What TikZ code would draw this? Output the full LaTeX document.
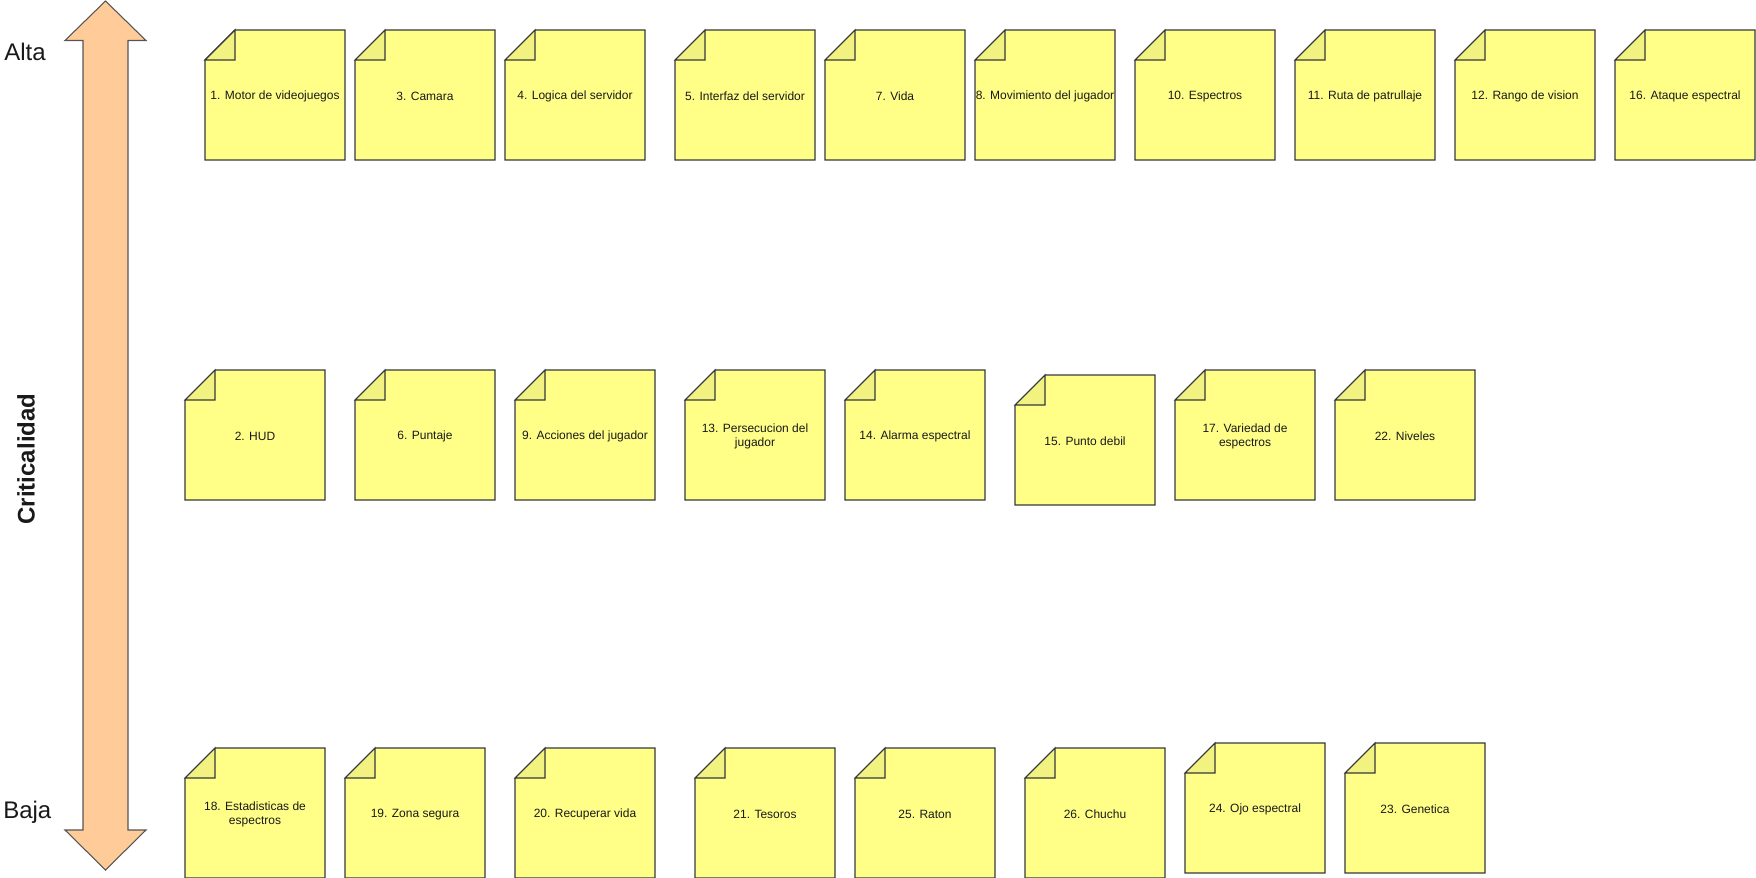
\documentclass[tikz,border=0pt]{standalone}
\usepackage{fontspec}
\setmainfont{Liberation Sans}
\begin{document}
\begin{tikzpicture}[x=0.75pt,y=-0.75pt,
  notebody/.style={fill=noteyellow,draw=notestroke,line width=0.8pt,line join=miter},
  notefold/.style={fill=notefoldc,draw=notestroke,line width=0.8pt},
  notetext/.style={inner sep=0pt,align=center,text=black!90,font=\fontsize{9}{10}\selectfont},
  sidelabel/.style={inner sep=0pt,anchor=west,font=\fontsize{18}{20}\selectfont,text=black!90},
  bigarrow/.style={fill=arrowfill,draw=arrowstroke,line width=0.8pt}]
\definecolor{noteyellow}{HTML}{FFFF88}
\definecolor{notefoldc}{HTML}{F2F281}
\definecolor{notestroke}{HTML}{36393D}
\definecolor{arrowfill}{HTML}{FFCC99}
\definecolor{arrowstroke}{HTML}{555555}
\useasboundingbox (0,0) rectangle (1756,878);
\newcommand{\stickynote}[4]{%
  \path[notebody] ({#2+30},#3) -- ({#2+140},#3) -- ({#2+140},{#3+130}) -- (#2,{#3+130}) -- (#2,{#3+30}) -- cycle;
  \path[notefold] ({#2+30},#3) -- ({#2+30},{#3+30}) -- (#2,{#3+30}) -- cycle;
  \node[notetext] (#1) at ({#2+70},{#3+66.5}) {#4};}
% criticality arrow
\path[bigarrow] (105.5,1) -- (146,40.5) -- (128,40.5) -- (128,830) -- (146,830) -- (105.5,870) -- (65,830) -- (83,830) -- (83,40.5) -- (65,40.5) -- cycle;
\node[sidelabel] (alta) at (4,52) {Alta};
\node[sidelabel] (baja) at (3,812) {Baja};
\node[inner sep=0pt,rotate=90,font=\fontsize{18}{20}\selectfont\bfseries,text=black!90] (crit) at (26,459) {Criticalidad};
% row 1
\stickynote{n1}{205}{30}{1. Motor de videojuegos}
\stickynote{n3}{355}{30}{3. Camara}
\stickynote{n4}{505}{30}{4. Logica del servidor}
\stickynote{n5}{675}{30}{5. Interfaz del servidor}
\stickynote{n7}{825}{30}{7. Vida}
\stickynote{n8}{975}{30}{8. Movimiento del jugador}
\stickynote{n10}{1135}{30}{10. Espectros}
\stickynote{n11}{1295}{30}{11. Ruta de patrullaje}
\stickynote{n12}{1455}{30}{12. Rango de vision}
\stickynote{n16}{1615}{30}{16. Ataque espectral}
% row 2
\stickynote{n2}{185}{370}{2. HUD}
\stickynote{n6}{355}{370}{6. Puntaje}
\stickynote{n9}{515}{370}{9. Acciones del jugador}
\stickynote{n13}{685}{370}{13. Persecucion del\\jugador}
\stickynote{n14}{845}{370}{14. Alarma espectral}
\stickynote{n15}{1015}{375}{15. Punto debil}
\stickynote{n17}{1175}{370}{17. Variedad de\\espectros}
\stickynote{n22}{1335}{370}{22. Niveles}
% row 3
\stickynote{n18}{185}{748}{18. Estadisticas de\\espectros}
\stickynote{n19}{345}{748}{19. Zona segura}
\stickynote{n20}{515}{748}{20. Recuperar vida}
\stickynote{n21}{695}{748}{21. Tesoros}
\stickynote{n25}{855}{748}{25. Raton}
\stickynote{n26}{1025}{748}{26. Chuchu}
\stickynote{n24}{1185}{743}{24. Ojo espectral}
\stickynote{n23}{1345}{743}{23. Genetica}
\end{tikzpicture}
\end{document}
